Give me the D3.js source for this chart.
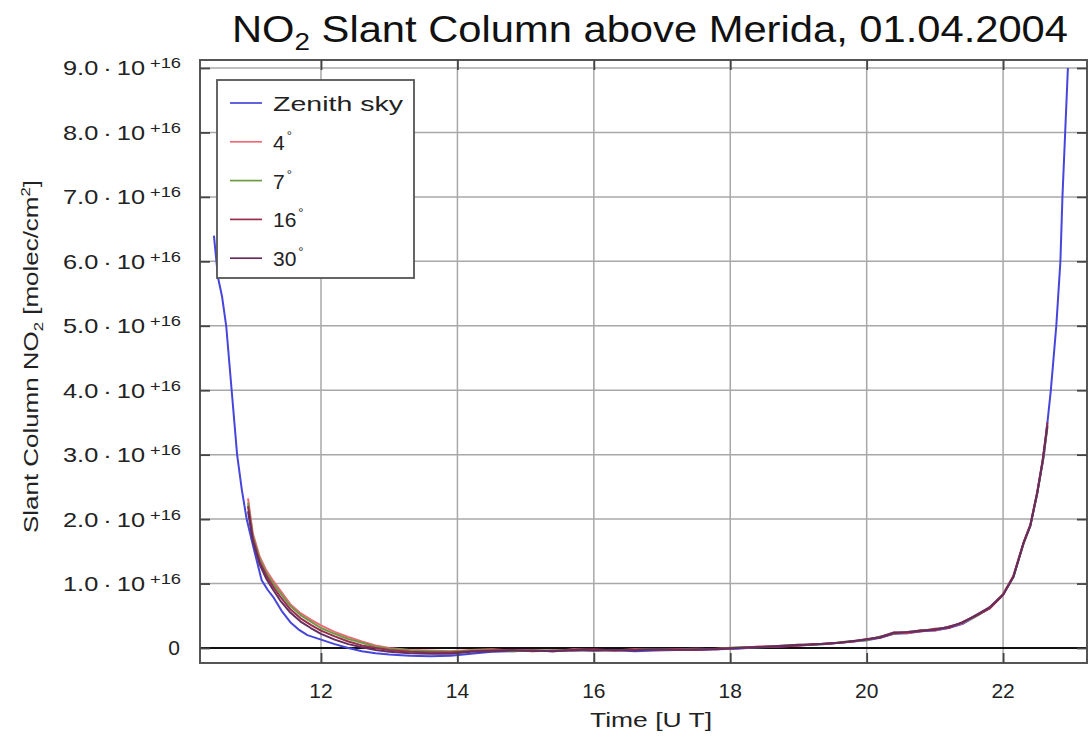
<!DOCTYPE html>
<html><head><meta charset="utf-8">
<script src="https://cdn.jsdelivr.net/npm/d3@7"></script>
<style>html,body{margin:0;padding:0;background:#fff;}svg{display:block;font-family:"Liberation Sans",Arial,sans-serif;}</style>
</head><body>
<svg id="c" width="1088" height="737"></svg>
<script>
// ---- data (values in units of 1e16 molec/cm^2) ----
const xTicks = [12, 14, 16, 18, 20, 22];
const xTickLabels = ["12", "14", "16", "18", "20", "22"];
const yTicks = [0, 1, 2, 3, 4, 5, 6, 7, 8, 9];
const yTickLabels = ["0", "1.0", "2.0", "3.0", "4.0", "5.0", "6.0", "7.0", "8.0", "9.0"];
const seriesNames = ["Zenith sky", "4", "7", "16", "30"];
const seriesColors = ["#4646dc", "#ee6a78", "#6f9a45", "#9a2c4c", "#652e5e"];

const zenithTime = [10.43,10.49,10.55,10.61,10.69,10.77,10.84,10.91,11.0,11.13,11.22,11.3,11.42,11.55,11.68,11.8,12.0,12.2,12.4,12.6,12.8,13.0,13.3,13.6,13.9,14.2,14.5,14.8,15.1,15.4,15.7,16.0,16.3,16.6,16.9,17.2,17.5,17.8,18.1,18.4,18.7,19.0,19.2,19.4,19.6,19.8,20.0,20.2,20.4,20.6,20.8,21.0,21.2,21.4,21.6,21.8,22.0,22.15,22.3,22.4,22.5,22.6,22.7,22.78,22.84,22.87,22.91,22.95];
const zenithValue = [6.4,5.75,5.45,5.0,4.0,3.0,2.45,2.0,1.6,1.05,0.9,0.79,0.58,0.4,0.28,0.2,0.13,0.06,0.0,-0.05,-0.08,-0.1,-0.12,-0.13,-0.12,-0.09,-0.06,-0.05,-0.04,-0.05,-0.03,-0.04,-0.03,-0.05,-0.04,-0.03,-0.03,-0.02,-0.01,0.01,0.02,0.04,0.05,0.06,0.08,0.1,0.12,0.16,0.22,0.23,0.26,0.27,0.31,0.37,0.49,0.62,0.83,1.1,1.63,1.9,2.4,3.0,4.0,5.0,6.0,7.0,8.0,9.0];

const slantTime = [10.93,11.0,11.1,11.2,11.3,11.4,11.55,11.7,11.85,12.0,12.2,12.4,12.6,12.8,13.0,13.3,13.6,13.9,14.2,14.5,14.8,15.1,15.4,15.7,16.0,16.3,16.6,16.9,17.2,17.5,17.8,18.1,18.4,18.7,19.0,19.2,19.4,19.6,19.8,20.0,20.2,20.4,20.6,20.8,21.0,21.2,21.4,21.6,21.8,22.0,22.15,22.3,22.4,22.5,22.58,22.65];
const elev4 = [2.32,1.78,1.42,1.2,1.04,0.9,0.68,0.54,0.44,0.35,0.25,0.17,0.1,0.04,0.0,-0.03,-0.04,-0.05,-0.03,-0.02,-0.04,-0.03,-0.05,-0.02,-0.03,-0.04,-0.02,-0.03,-0.02,-0.01,-0.02,0.0,0.02,0.03,0.04,0.05,0.07,0.08,0.1,0.13,0.17,0.24,0.23,0.28,0.27,0.33,0.38,0.5,0.63,0.84,1.12,1.64,1.92,2.42,2.9,3.45];
const elev7 = [2.25,1.74,1.38,1.16,1.0,0.86,0.65,0.51,0.41,0.31,0.22,0.14,0.08,0.02,-0.01,-0.04,-0.05,-0.06,-0.04,-0.03,-0.05,-0.04,-0.04,-0.03,-0.04,-0.03,-0.03,-0.02,-0.03,-0.02,-0.01,0.01,0.01,0.03,0.05,0.05,0.06,0.09,0.11,0.12,0.18,0.22,0.25,0.27,0.29,0.32,0.39,0.49,0.62,0.83,1.1,1.62,1.9,2.4,2.88,3.42];
const elev16 = [2.2,1.7,1.34,1.12,0.95,0.8,0.6,0.46,0.36,0.27,0.18,0.1,0.04,0.0,-0.03,-0.06,-0.07,-0.07,-0.05,-0.04,-0.03,-0.05,-0.04,-0.04,-0.02,-0.04,-0.03,-0.03,-0.02,-0.03,-0.01,0.0,0.02,0.02,0.04,0.06,0.06,0.08,0.1,0.14,0.16,0.23,0.24,0.26,0.3,0.31,0.4,0.5,0.61,0.82,1.11,1.63,1.91,2.41,2.92,3.5];
const elev30 = [2.12,1.66,1.3,1.07,0.9,0.74,0.55,0.41,0.31,0.22,0.13,0.06,0.01,-0.03,-0.06,-0.08,-0.09,-0.09,-0.06,-0.05,-0.04,-0.04,-0.05,-0.03,-0.04,-0.03,-0.04,-0.02,-0.03,-0.02,-0.02,0.0,0.01,0.03,0.05,0.05,0.07,0.08,0.11,0.13,0.17,0.24,0.25,0.27,0.28,0.33,0.39,0.51,0.63,0.83,1.1,1.63,1.9,2.4,2.9,3.45];

// ---- layout ----
const L = 200, R = 1087, T = 60, B = 663;
const x = d3.scaleLinear().domain([10.226, 23.23]).range([L, R]);
const y = d3.scaleLinear().domain([-0.233, 9.124]).range([B, T]);

const svg = d3.select("#c");
const series = [
  {name: seriesNames[0], color: seriesColors[0], t: zenithTime, v: zenithValue},
  {name: seriesNames[1], color: seriesColors[1], t: slantTime, v: elev4},
  {name: seriesNames[2], color: seriesColors[2], t: slantTime, v: elev7},
  {name: seriesNames[3], color: seriesColors[3], t: slantTime, v: elev16},
  {name: seriesNames[4], color: seriesColors[4], t: slantTime, v: elev30}
];

svg.append("defs").append("clipPath").attr("id", "clip")
  .append("rect").attr("x", L).attr("y", T).attr("width", R - L).attr("height", B - T);

// grid
const grid = svg.append("g").attr("stroke", "#a8a8a8").attr("stroke-width", 1.5);
grid.selectAll(".gx").data(xTicks).join("line")
  .attr("x1", d => x(d)).attr("x2", d => x(d)).attr("y1", T).attr("y2", B);
grid.selectAll(".gy").data(yTicks.filter(d => d > 0)).join("line")
  .attr("y1", d => y(d)).attr("y2", d => y(d)).attr("x1", L).attr("x2", R);

// zero line
svg.append("line").attr("x1", L).attr("x2", R).attr("y1", y(0)).attr("y2", y(0))
  .attr("stroke", "#111").attr("stroke-width", 1.8);

// curves
const line = d3.line().x(d => x(d[0])).y(d => y(d[1]));
const cg = svg.append("g").attr("clip-path", "url(#clip)");
series.forEach(s => {
  cg.append("path").datum(s.t.map((t, i) => [t, s.v[i]]))
    .attr("d", line).attr("fill", "none").attr("stroke", s.color)
    .attr("stroke-width", 2).attr("stroke-linejoin", "round");
});

// frame
svg.append("rect").attr("x", L).attr("y", T).attr("width", R - L).attr("height", B - T)
  .attr("fill", "none").attr("stroke", "#555").attr("stroke-width", 2);

// inward ticks using d3 axes
const axB = svg.append("g").attr("transform", `translate(0,${B})`)
  .call(d3.axisBottom(x).tickValues(xTicks).tickSize(-10).tickFormat(""));
const axT = svg.append("g").attr("transform", `translate(0,${T})`)
  .call(d3.axisTop(x).tickValues(xTicks).tickSize(-10).tickFormat(""));
const axL = svg.append("g").attr("transform", `translate(${L},0)`)
  .call(d3.axisLeft(y).tickValues(yTicks).tickSize(-10).tickFormat(""));
const axR = svg.append("g").attr("transform", `translate(${R},0)`)
  .call(d3.axisRight(y).tickValues(yTicks).tickSize(-10).tickFormat(""));
[axB, axT, axL, axR].forEach(a => {
  a.select(".domain").remove();
  a.selectAll(".tick line").attr("stroke", "#444").attr("stroke-width", 1.8);
});

// x tick labels
svg.append("g").selectAll("text").data(xTicks).join("text")
  .attr("x", d => x(d)).attr("y", 698).attr("text-anchor", "middle")
  .attr("font-size", 21).attr("fill", "#222").text((d, i) => xTickLabels[i]);

// y tick labels
const yl = svg.append("g").attr("fill", "#222");
yTicks.forEach((d, i) => {
  if (d === 0) {
    yl.append("text").attr("x", 180).attr("y", y(d) + 7).attr("text-anchor", "end")
      .attr("font-size", 21).text(yTickLabels[i]);
  } else {
    yl.append("text").attr("x", 63).attr("y", y(d) + 7.5)
      .attr("font-size", 21).attr("textLength", 82).attr("lengthAdjust", "spacingAndGlyphs")
      .text(yTickLabels[i] + "\u2009\u00b7\u200910");
    yl.append("text").attr("x", 150).attr("y", y(d) + 0.5)
      .attr("font-size", 14).attr("textLength", 31).attr("lengthAdjust", "spacingAndGlyphs")
      .text("+16");
  }
});

// title
const title = svg.append("text").attr("x", 232).attr("y", 42).attr("font-size", 36)
  .attr("fill", "#111").attr("textLength", 836).attr("lengthAdjust", "spacingAndGlyphs");
title.append("tspan").text("NO");
title.append("tspan").attr("font-size", 24).attr("dy", 8).text("2");
title.append("tspan").attr("dy", -8).text(" Slant Column above Merida, 01.04.2004");

// x axis title
svg.append("text").attr("x", 590).attr("y", 727).attr("font-size", 21).attr("fill", "#222")
  .attr("textLength", 122).attr("lengthAdjust", "spacingAndGlyphs").text("Time [U T]");

// y axis title
const yt = svg.append("text").attr("transform", "translate(38,533) rotate(-90)")
  .attr("font-size", 20).attr("fill", "#222")
  .attr("textLength", 353).attr("lengthAdjust", "spacingAndGlyphs");
yt.append("tspan").text("Slant Column NO");
yt.append("tspan").attr("font-size", 13).attr("dy", 5).text("2");
yt.append("tspan").attr("dy", -5).text(" [molec/cm");
yt.append("tspan").attr("font-size", 13).attr("dy", -8).text("2");
yt.append("tspan").attr("dy", 8).text("]");

// legend
const lg = svg.append("g");
lg.append("rect").attr("x", 217).attr("y", 80).attr("width", 197).attr("height", 198)
  .attr("fill", "#fff").attr("stroke", "#555").attr("stroke-width", 1.8);
series.forEach((s, i) => {
  const yy = 103 + i * 38.8;
  lg.append("line").attr("x1", 230).attr("x2", 262).attr("y1", yy).attr("y2", yy)
    .attr("stroke", s.color).attr("stroke-width", 1.7);
  const tx = lg.append("text").attr("x", 273).attr("y", yy + 8).attr("font-size", 21).attr("fill", "#222");
  if (i === 0) {
    tx.attr("textLength", 130).attr("lengthAdjust", "spacingAndGlyphs").text(s.name);
  } else {
    tx.append("tspan").text(s.name);
    tx.append("tspan").attr("font-size", 13).attr("dy", -10).attr("dx", 2).text("\u00b0");
  }
});
</script>
</body></html>
